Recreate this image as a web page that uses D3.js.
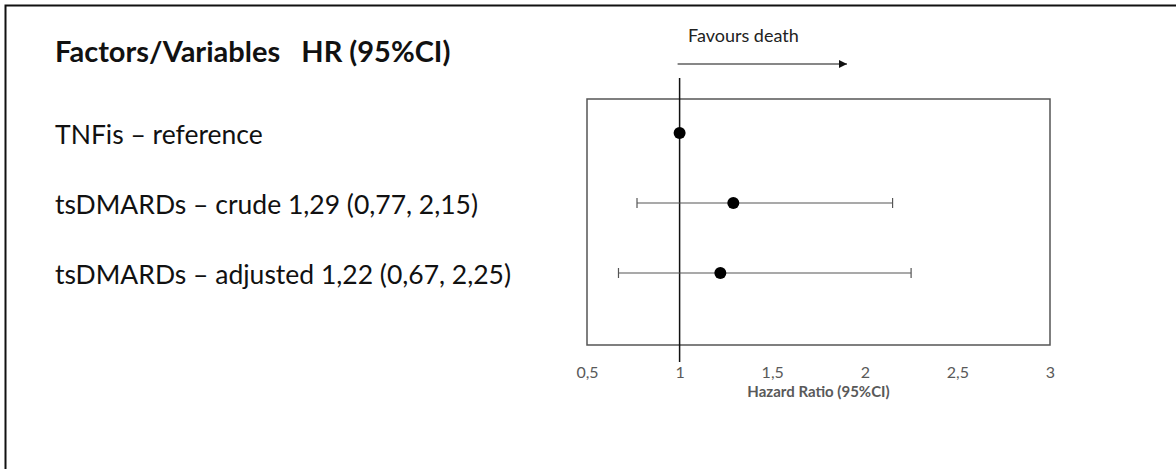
<!DOCTYPE html>
<html>
<head>
<meta charset="utf-8">
<script src="https://cdn.jsdelivr.net/npm/d3@7"></script>
<style>
  body { margin: 0; background: #fff; }
  svg { display: block; }
</style>
</head>
<body>
<div id="chart"></div>
<script>
// forest plot data
const labels = ['TNFis \u2013 reference', 'tsDMARDs \u2013 crude 1,29 (0,77, 2,15)', 'tsDMARDs \u2013 adjusted 1,22 (0,67, 2,25)'];
const hr = [1, 1.29, 1.22];
const lower = [null, 0.77, 0.67];
const upper = [null, 2.15, 2.25];
const xTicks = [0.5, 1, 1.5, 2, 2.5, 3];

const width = 1176;
const height = 469;
const font = 'Lato, "Open Sans", sans-serif';

const svg = d3.select('#chart')
    .append('svg')
    .attr('width', width)
    .attr('height', height);

// outer frame (left + top only, the picture is cropped on the other sides)
svg.append('path')
    .attr('d', `M5.5,${height} V5.5 H${width}`)
    .attr('fill', 'none')
    .attr('stroke', '#111')
    .attr('stroke-width', 2);

const box = {left: 587, right: 1050, top: 99, bottom: 345};

const x = d3.scaleLinear()
    .domain([0.5, 3])
    .range([box.left, box.right]);

const y = d3.scalePoint()
    .domain(d3.range(labels.length))
    .range([133, 273]);

// plot box
svg.append('rect')
    .attr('x', box.left)
    .attr('y', box.top)
    .attr('width', box.right - box.left)
    .attr('height', box.bottom - box.top)
    .attr('fill', 'none')
    .attr('stroke', '#555')
    .attr('stroke-width', 1.5);

const fmt = (d) => String(d).replace('.', ',');
const xAxis = svg.append('g')
    .attr('transform', `translate(0,${box.bottom})`)
    .call(d3.axisBottom(x).tickValues(xTicks).tickFormat(fmt).tickSize(0).tickPadding(0));
xAxis.select('.domain').remove();
xAxis.selectAll('text')
    .attr('dy', null)
    .attr('y', 378 - box.bottom)
    .attr('font-family', font)
    .attr('font-size', 16)
    .attr('fill', '#595959');

svg.append('text')
    .attr('x', (box.left + box.right) / 2)
    .attr('y', 397)
    .attr('text-anchor', 'middle')
    .attr('font-family', font)
    .attr('font-weight', 'bold')
    .attr('font-size', 15)
    .attr('fill', '#595959')
    .text('Hazard Ratio (95%CI)');

// reference line at HR = 1
svg.append('line')
    .attr('x1', x(1)).attr('x2', x(1))
    .attr('y1', 78).attr('y2', 362)
    .attr('stroke', '#111')
    .attr('stroke-width', 1.5);

// favours death arrow
svg.append('defs').append('marker')
    .attr('id', 'arrow')
    .attr('viewBox', '0 0 10 10')
    .attr('refX', 10).attr('refY', 5)
    .attr('markerWidth', 9).attr('markerHeight', 8)
    .attr('markerUnits', 'userSpaceOnUse')
    .attr('orient', 'auto')
    .append('path')
    .attr('d', 'M0,0 L10,5 L0,10 z')
    .attr('fill', '#111');

svg.append('line')
    .attr('x1', x(1) - 2).attr('x2', 847)
    .attr('y1', 64).attr('y2', 64)
    .attr('stroke', '#111')
    .attr('stroke-width', 1.2)
    .attr('marker-end', 'url(#arrow)');

svg.append('text')
    .attr('x', 688)
    .attr('y', 42)
    .attr('font-family', font)
    .attr('font-size', 18)
    .attr('fill', '#222')
    .text('Favours death');

// confidence intervals
const rows = d3.range(labels.length);
const ci = svg.append('g')
    .selectAll('g')
    .data(rows.filter((i) => lower[i] !== null))
    .join('g')
    .attr('stroke', '#555')
    .attr('stroke-width', 1.2);

ci.append('line')
    .attr('x1', (i) => x(lower[i]))
    .attr('x2', (i) => x(upper[i]))
    .attr('y1', (i) => y(i))
    .attr('y2', (i) => y(i));

ci.append('line')
    .attr('x1', (i) => x(lower[i]))
    .attr('x2', (i) => x(lower[i]))
    .attr('y1', (i) => y(i) - 5)
    .attr('y2', (i) => y(i) + 5);

ci.append('line')
    .attr('x1', (i) => x(upper[i]))
    .attr('x2', (i) => x(upper[i]))
    .attr('y1', (i) => y(i) - 5)
    .attr('y2', (i) => y(i) + 5);

// point estimates
svg.append('g')
    .selectAll('circle')
    .data(rows)
    .join('circle')
    .attr('cx', (i) => x(hr[i]))
    .attr('cy', (i) => y(i))
    .attr('r', 6)
    .attr('fill', '#000');

// left hand text
svg.append('text')
    .attr('x', 55)
    .attr('y', 62)
    .attr('font-family', font)
    .attr('font-weight', 'bold')
    .attr('font-size', 29)
    .attr('fill', '#111')
    .attr('xml:space', 'preserve')
    .text('Factors/Variables   HR (95%CI)');

svg.append('g')
    .selectAll('text')
    .data(rows)
    .join('text')
    .attr('x', 55)
    .attr('y', (i) => y(i) + 11)
    .attr('font-family', font)
    .attr('font-size', 26.5)
    .attr('fill', '#111')
    .text((i) => labels[i]);
</script>
</body>
</html>
